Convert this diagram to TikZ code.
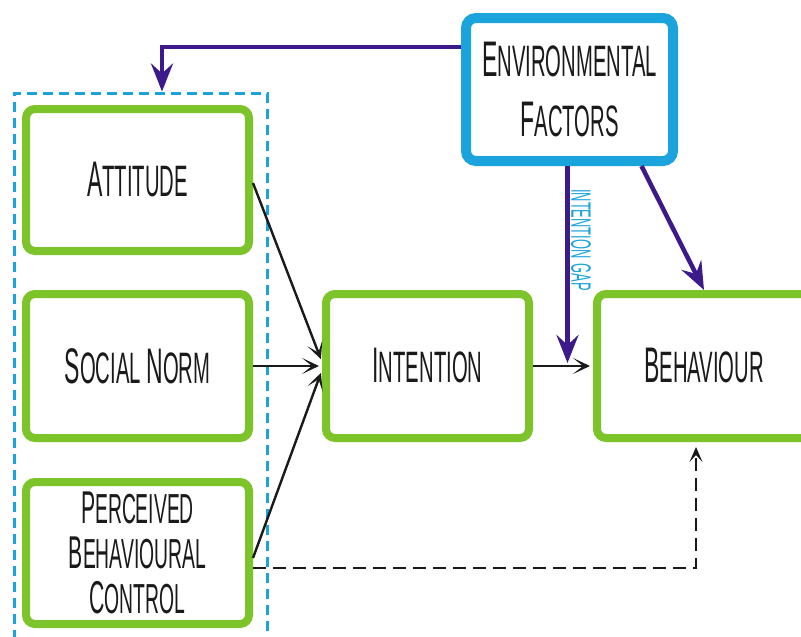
\documentclass[tikz,border=0pt]{standalone}
\usepackage{fontspec}
\newfontfamily\hand[FakeStretch=0.46]{Liberation Sans}
\usetikzlibrary{arrows.meta}
\definecolor{grn}{HTML}{7DC42A}
\definecolor{envblue}{HTML}{1BA3DC}
\definecolor{purp}{HTML}{3D1A8C}
\definecolor{ink}{HTML}{1A1A1A}
\def\hcbig{50}
\newcommand\hc[2]{{\fontsize{\hcbig}{\hcbig}\selectfont #1}#2}
\begin{document}
\begin{tikzpicture}[x=1pt,y=-1pt,
  box/.style={draw=grn, line width=8pt, rounded corners=9pt, fill=white, inner sep=0pt,
    text=ink, font=\hand\fontsize{44}{60}\selectfont, align=center},
  envbox/.style={box, draw=envblue, line width=10pt, rounded corners=10pt},
  groupbox/.style={draw=envblue, line width=3pt, dash pattern=on 10pt off 6pt, inner sep=0pt},
  blk/.style={draw=ink, line width=2.4pt, -{Stealth[length=17pt, width=16pt, inset=10pt]}},
  dsh/.style={draw=ink, line width=2.2pt, dash pattern=on 13pt off 7pt, -{Stealth[length=15pt, width=13pt, inset=7pt]}},
  purpar/.style={draw=purp, line width=4.5pt, -{Stealth[length=28pt, width=22pt, inset=10pt]}},
  gaplabel/.style={text=envblue, font=\hand\fontsize{28}{28}\selectfont, inner sep=0pt}]
\useasboundingbox (0,0) rectangle (801,637);
\clip (0,0) rectangle (801,637);
\fill[white] (0,0) rectangle (801,637);
% group
\node[groupbox, minimum width=253pt, minimum height=557pt] (grp) at (140.5,371.5) {};
% nodes
\node[box, minimum width=223pt, minimum height=142pt] (att) at (137.5,180) {\hc{A}{TTITUDE}};
\node[box, minimum width=223pt, minimum height=144pt] (soc) at (137.5,366) {\hc{S}{OCIAL} \hc{N}{ORM}};
\node[box, minimum width=223pt, minimum height=142pt, font=\hand\fontsize{42}{45}\selectfont\def\hcbig{46}] (pbc) at (137.5,553) {\hc{P}{ERCEIVED}\\\hc{B}{EHAVIOURAL}\\\hc{C}{ONTROL}};
\node[box, minimum width=203pt, minimum height=144pt] (int) at (427.5,366) {\hc{I}{NTENTION}};
\node[box, minimum width=214pt, minimum height=144pt] (beh) at (704,366) {\hc{B}{EHAVIOUR}};
\node[envbox, minimum width=207pt, minimum height=143pt] (env) at (569.5,89.5) {\hc{E}{NVIRONMENTAL}\\\hc{F}{ACTORS}};
\node[gaplabel, rotate=-90] (gap) at (581,240) {INTENTION\hspace{5pt}GAP};
% connectors
\draw[blk, shorten >=3pt] ([yshift=-3pt]att.east) -- ([yshift=4pt]int.west);
\draw[blk, shorten >=3pt] (soc.east) -- (int.west);
\draw[blk, shorten >=3pt] ([yshift=-5pt]pbc.east) -- ([yshift=-4pt]int.west);
\draw[blk, shorten >=3pt] (int.east) -- (beh.west);
\draw[dsh, shorten >=5pt] ([yshift=-15pt]pbc.east) -| ([xshift=-8pt]beh.south);
\draw[purpar] ([yshift=42.5pt]env.west) -| ([xshift=21.5pt]grp.north);
\draw[purpar] ([xshift=72pt]env.south) -- (beh.north);
\draw[purpar, shorten >=3pt] ([xshift=-2pt]env.south) -- ([xshift=-2pt]env.south |- int.east);
\end{tikzpicture}
\end{document}
